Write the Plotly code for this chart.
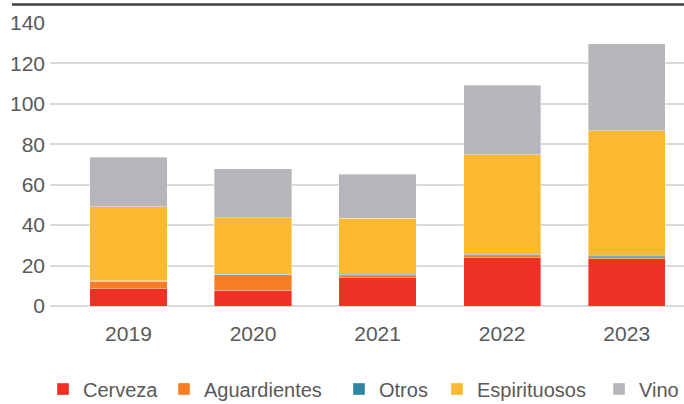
import plotly.graph_objects as go

years = ["2019", "2020", "2021", "2022", "2023"]
cerveza = [8.6, 7.8, 14.0, 23.8, 23.3]
aguardientes = [3.6, 7.7, 1.0, 1.1, 1.1]
otros = [0.3, 0.3, 0.7, 0.8, 0.7]
espirituosos = [36.7, 27.9, 27.7, 49.2, 61.7]
vino = [24.4, 24.1, 21.8, 34.3, 42.9]

series = [
    ("Cerveza", cerveza, "#EE3124"),
    ("Aguardientes", aguardientes, "#F47D26"),
    ("Otros", otros, "#2E86A0"),
    ("Espirituosos", espirituosos, "#FBB92F"),
    ("Vino", vino, "#B7B5BA"),
]
# legend text left edges in pixels (from reference)
legend_text_px = [84, 205, 380, 478, 640]

FONT = "Liberation Sans, Arial, sans-serif"
L, R, T, B = 50, 0, 23, 98
W, H = 684, 404
pw, ph = W - L - R, H - T - B

fig = go.Figure()
legends = {}
for i, (name, vals, col) in enumerate(series):
    key = "legend" if i == 0 else f"legend{i+1}"
    fig.add_trace(go.Bar(
        name=name, x=years, y=vals, width=0.62, legend=key,
        marker=dict(color=col, line=dict(color="rgba(255,255,255,0.6)", width=0.6)),
    ))
    legends[key] = dict(
        orientation="h", x=(legend_text_px[i] - 41 - L) / pw, xanchor="left",
        y=(H - B - 389) / ph, yanchor="middle", bgcolor="rgba(0,0,0,0)",
        font=dict(size=20, color="#595959"),
    )

fig.update_layout(
    barmode="stack",
    width=W, height=H,
    margin=dict(l=L, r=R, t=T, b=B, autoexpand=False),
    paper_bgcolor="white", plot_bgcolor="white",
    font=dict(family=FONT, size=21, color="#595959"),
    xaxis=dict(type="category", range=[-0.63, 4.46], showgrid=False, automargin=False,
               showline=False, ticks="", ticklabelstandoff=13,
               tickfont=dict(size=21, color="#595959")),
    yaxis=dict(range=[0, 140], dtick=20, showgrid=True, gridcolor="#D9D9D9", automargin=False,
               gridwidth=2, zeroline=True, zerolinecolor="#D9D9D9", zerolinewidth=2,
               ticks="", ticklabelstandoff=4, tickfont=dict(size=21, color="#595959")),
    showlegend=True,
    **legends,
)

fig.add_shape(type="line", xref="paper", yref="paper",
              x0=(12 - L) / pw, x1=1.0, y0=(H - B - 4.5) / ph, y1=(H - B - 4.5) / ph,
              line=dict(color="#404040", width=2.5))

fig.write_html("out.html", config={"displayModeBar": False},
               post_script="document.body.style.margin='0';")
